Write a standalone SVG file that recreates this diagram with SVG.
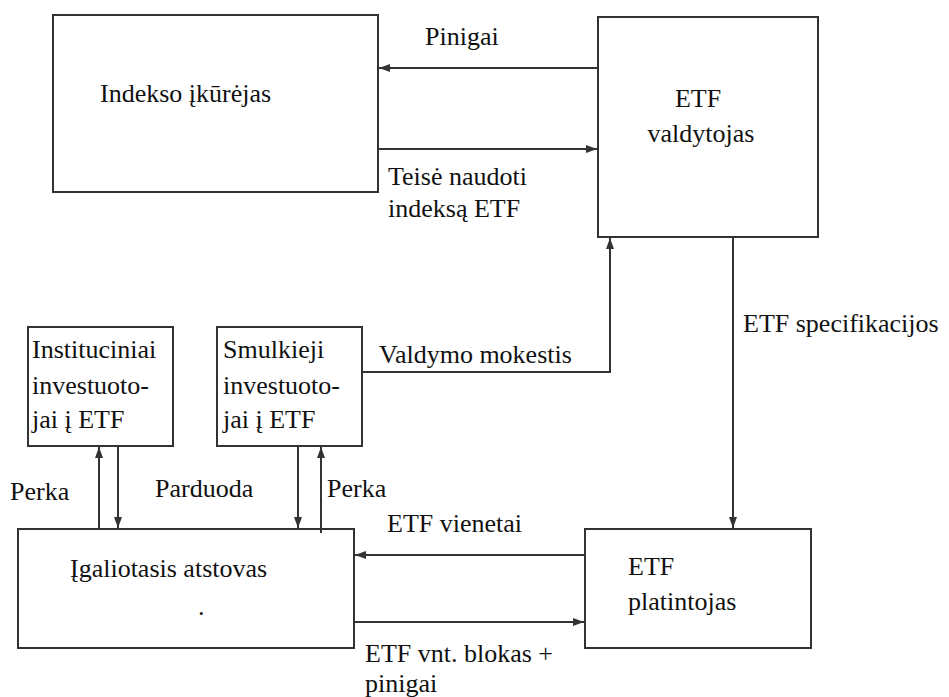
<svg xmlns="http://www.w3.org/2000/svg" width="949" height="697" viewBox="0 0 949 697" font-family="Liberation Serif, Times New Roman, DejaVu Serif, serif" font-size="26">
<style>
.box{fill:#fff;stroke:#333;stroke-width:2}
.ln{fill:none;stroke:#333;stroke-width:2}
.t{font-family:'Liberation Serif','Times New Roman','DejaVu Serif',serif;font-size:26px;fill:#111}
</style>
<defs>
<marker id="ah" markerUnits="userSpaceOnUse" markerWidth="12" markerHeight="10" refX="11" refY="5" orient="auto">
<path d="M0,1 L11,5 L0,9 Z" fill="#333"/>
</marker>
</defs>
<rect width="949" height="697" fill="#fff"/>
<g id="indekso">
<rect class="box" x="53" y="15" width="325" height="177"/>
<text class="t" x="100" y="102">Indekso įkūrėjas</text>
</g>
<g id="valdytojas">
<rect class="box" x="598" y="17" width="220" height="220"/>
<text class="t" x="698" y="107" text-anchor="middle">ETF</text>
<text class="t" x="701" y="142" text-anchor="middle">valdytojas</text>
</g>
<g id="instituciniai">
<rect class="box" x="28" y="327" width="145" height="119"/>
<text class="t" x="32" y="358">Instituciniai</text>
<text class="t" x="32" y="394">investuoto-</text>
<text class="t" x="32" y="428">jai į ETF</text>
</g>
<g id="smulkieji">
<rect class="box" x="217" y="327" width="145" height="119"/>
<text class="t" x="223" y="358">Smulkieji</text>
<text class="t" x="223" y="394">investuoto-</text>
<text class="t" x="223" y="428">jai į ETF</text>
</g>
<g id="igaliotasis">
<rect class="box" x="18" y="529" width="336" height="119"/>
<text class="t" x="70" y="577">Įgaliotasis atstovas</text>
<text class="t" x="198" y="615">.</text>
</g>
<g id="platintojas">
<rect class="box" x="585" y="529" width="226" height="119"/>
<text class="t" x="628" y="575">ETF</text>
<text class="t" x="628" y="610">platintojas</text>
</g>
<g id="connectors">
<line class="ln" x1="598" y1="68" x2="379" y2="68" marker-end="url(#ah)"/>
<line class="ln" x1="378" y1="149" x2="597" y2="149" marker-end="url(#ah)"/>
<polyline class="ln" points="362,372 610,372 610,238" marker-end="url(#ah)"/>
<line class="ln" x1="733" y1="237" x2="733" y2="528" marker-end="url(#ah)"/>
<line class="ln" x1="585" y1="555" x2="355" y2="555" marker-end="url(#ah)"/>
<line class="ln" x1="354" y1="622" x2="584" y2="622" marker-end="url(#ah)"/>
<line class="ln" x1="99" y1="529" x2="99" y2="447" marker-end="url(#ah)"/>
<line class="ln" x1="118" y1="446" x2="118" y2="528" marker-end="url(#ah)"/>
<line class="ln" x1="298" y1="446" x2="298" y2="528" marker-end="url(#ah)"/>
<line class="ln" x1="321" y1="533" x2="321" y2="447" marker-end="url(#ah)"/>
</g>
<g id="labels">
<text class="t" x="425" y="45">Pinigai</text>
<text class="t" x="388" y="185">Teisė naudoti</text>
<text class="t" x="388" y="217">indeksą ETF</text>
<text class="t" x="379" y="363">Valdymo mokestis</text>
<text class="t" x="743" y="332">ETF specifikacijos</text>
<text class="t" x="10" y="500">Perka</text>
<text class="t" x="155" y="497">Parduoda</text>
<text class="t" x="327" y="497">Perka</text>
<text class="t" x="387" y="532">ETF vienetai</text>
<text class="t" x="365" y="662">ETF vnt. blokas +</text>
<text class="t" x="365" y="692">pinigai</text>
</g>
</svg>
